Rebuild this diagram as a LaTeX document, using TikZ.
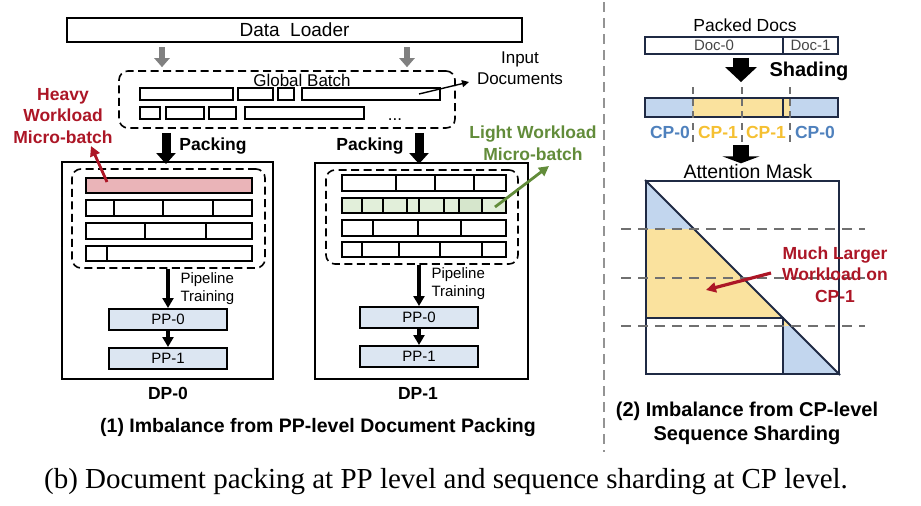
\documentclass[tikz,border=0pt]{standalone}
\usepackage{fontspec}
\setmainfont{Liberation Sans}
\newfontfamily\capserif{Liberation Serif}
\usetikzlibrary{arrows.meta}
\definecolor{arrowgray}{RGB}{128,128,128}
\definecolor{pinkf}{RGB}{234,180,184}
\definecolor{greenf}{RGB}{226,239,218}
\definecolor{greenf2}{RGB}{214,230,204}
\definecolor{ppfill}{RGB}{220,230,242}
\definecolor{heavyred}{RGB}{172,22,38}
\definecolor{lightgreen}{RGB}{98,140,58}
\definecolor{cpbluet}{RGB}{79,129,189}
\definecolor{cpyellowt}{RGB}{245,192,50}
\definecolor{cpbluef}{RGB}{194,214,238}
\definecolor{cpyellowf}{RGB}{250,226,158}
\definecolor{navy}{RGB}{31,42,68}
\definecolor{dashgray}{RGB}{112,112,112}
\definecolor{docgray}{RGB}{70,70,70}
\newcommand\fsz[2]{\fontsize{#1}{#2}\selectfont}
\begin{document}
\begin{tikzpicture}[x=1pt,y=-1pt,
  box/.style={draw, line width=2pt, inner sep=0pt},
  dbox/.style={draw, dash pattern=on 8pt off 4.5pt, line width=1.6pt, rounded corners=9pt, inner sep=0pt},
  cell/.style={draw, line width=1.6pt},
  ppbox/.style={box, fill=ppfill, minimum width=118pt, minimum height=21pt, font=\fsz{15}{18}},
  grayarrow/.style={draw=arrowgray, line width=6pt, -{Triangle[width=15pt,length=9pt]}, arrowgray},
  bigarrow/.style={line width=9pt, -{Triangle[width=19pt,length=11pt]}},
  pipearrow/.style={line width=3.5pt, -{Triangle[width=11pt,length=10pt]}},
  labarrow/.style={line width=2.8pt, -{Triangle[width=10pt,length=10pt]}},
  lab17/.style={font=\fsz{17}{21}},
  blab/.style={font=\bfseries\fsz{17.5}{21.5}},
  vdash/.style={draw=dashgray, line width=2pt, dash pattern=on 7pt off 5pt},
  hdash/.style={draw=dashgray, line width=2.2pt, dash pattern=on 10pt off 7pt},
]
\useasboundingbox (0,0) rectangle (921,506);

% ---------- Data loader and global batch ----------
\node[box, minimum width=455pt, minimum height=24pt, font=\fsz{19}{22}] (dl) at (294.5,30) {Data\ \ Loader};
\node[dbox, minimum width=336pt, minimum height=57pt] (gb) at (287,99.5) {};
\node[lab17] (gbt) at (302,80) {Global Batch};
\coordinate (ga1) at (162,0);
\coordinate (ga2) at (407,0);
\draw[grayarrow, shorten <=4pt, shorten >=3pt] (dl.south -| ga1) -- (gb.north -| ga1);
\draw[grayarrow, shorten <=4pt, shorten >=3pt] (dl.south -| ga2) -- (gb.north -| ga2);
% documents in global batch
\draw[cell] (140,88) rectangle (233,100);
\draw[cell] (238,88) rectangle (273,100);
\draw[cell] (278,88) rectangle (294,100);
\draw[cell] (302,88) rectangle (440,100);
\draw[cell] (140,107) rectangle (160,119);
\draw[cell] (166,107) rectangle (204,119);
\draw[cell] (209,107) rectangle (236,119);
\draw[cell] (245,107) rectangle (364,119);
\node[lab17, anchor=base] (dots) at (395,120) {...};
% input documents
\node[lab17, align=center] (indoc) at (520,68.5) {Input\\Documents};
\coordinate (indocs) at (419,94);
\coordinate (indoce) at (469,82);
\draw[line width=1.4pt, -{Triangle[width=7pt,length=7pt]}] (indocs) -- (indoce);

% ---------- DP-0 ----------
\node[box, minimum width=211pt, minimum height=217pt] (dp0) at (167.5,270.5) {};
\node[dbox, minimum width=193pt, minimum height=99pt] (in0) at (168.5,218.5) {};
\draw[cell, fill=pinkf] (86,178) rectangle (252,193);
\draw[cell] (86,200) rectangle (252,216);
\foreach \s in {114,163,213} \draw[cell] (\s,200) -- (\s,216);
\draw[cell] (86,223) rectangle (252,239);
\foreach \s in {145,206} \draw[cell] (\s,223) -- (\s,239);
\draw[cell] (86,246) rectangle (252,261);
\draw[cell] (107,246) -- (107,261);
\node[ppbox] (pp0a) at (168,319.5) {PP-0};
\node[ppbox] (pp1a) at (168,358.5) {PP-1};
\coordinate (p0x) at (166,0);
\coordinate (q0x) at (168,0);
\draw[bigarrow, shorten <=4pt, shorten >=-3pt] (gb.south -| p0x) -- (dp0.north -| p0x);
\node[blab] (pack0) at (213,146) {Packing};
\draw[pipearrow] (in0.south -| q0x) -- (pp0a.north);
\draw[pipearrow] (pp0a.south) -- (pp1a.north);
\node[font=\fsz{15}{18}, align=left, anchor=west] (pipe0) at (177,289) {Pipeline\\Training};
\node[blab] (dp0l) at (168,393) {DP-0};
% heavy label
\node[blab, text=heavyred, align=center] (heavy) at (63,116) {Heavy\\Workload\\Micro-batch};
\coordinate (heavys) at (107,182);
\coordinate (heavye) at (91,146);
\draw[labarrow, heavyred] (heavys) -- (heavye);

% ---------- DP-1 ----------
\node[box, minimum width=213pt, minimum height=216pt] (dp1) at (421.5,271) {};
\node[dbox, minimum width=192pt, minimum height=94pt] (in1) at (422,217) {};
\draw[cell] (342,175) rectangle (506,191);
\foreach \s in {396,435,474} \draw[cell] (\s,175) -- (\s,191);
\fill[greenf] (342,198) rectangle (506,213);
\fill[greenf2] (459,198) rectangle (482,213);
\draw[cell] (342,198) rectangle (506,213);
\foreach \s in {362,383,407,419,444,459,482} \draw[cell] (\s,198) -- (\s,213);
\draw[cell] (342,220) rectangle (506,236);
\foreach \s in {373,418,461} \draw[cell] (\s,220) -- (\s,236);
\draw[cell] (342,242) rectangle (506,257);
\foreach \s in {362,399,440,482} \draw[cell] (\s,242) -- (\s,257);
\node[ppbox] (pp0b) at (419,317.5) {PP-0};
\node[ppbox] (pp1b) at (419,356.5) {PP-1};
\coordinate (p1x) at (419,0);
\draw[bigarrow, shorten <=4pt, shorten >=-2pt] (gb.south -| p1x) -- (dp1.north -| p1x);
\node[blab] (pack1) at (370,146) {Packing};
\draw[pipearrow] (in1.south -| p1x) -- (pp0b.north);
\draw[pipearrow] (pp0b.south) -- (pp1b.north);
\node[font=\fsz{15}{18}, align=left, anchor=west] (pipe1) at (428,284) {Pipeline\\Training};
\node[blab] (dp1l) at (418,393) {DP-1};
% light label
\node[blab, text=lightgreen, align=center] (light) at (533,143) {Light Workload\\Micro-batch};
\coordinate (lights) at (495,207);
\coordinate (lighte) at (549,166);
\draw[labarrow, lightgreen] (lights) -- (lighte);

\node[font=\bfseries\fsz{19.5}{23}] (cap1) at (318,427) {(1) Imbalance from PP-level Document Packing};

% separator
\draw[draw=arrowgray!85, line width=2.5pt, dash pattern=on 10pt off 6pt] (604,2) -- (604,452);

% ---------- Right part ----------
\node[lab17, font=\fsz{17.5}{21}] (packed) at (745,25) {Packed Docs};
\node[draw=navy, line width=1.7pt, minimum width=138pt, minimum height=17pt, inner sep=0pt, font=\fsz{15}{18}, text=docgray] (doc0) at (714,45.5) {Doc-0};
\node[draw=navy, line width=1.7pt, minimum width=55pt, minimum height=17pt, inner sep=0pt, font=\fsz{15}{18}, text=docgray] (doc1) at (810.5,45.5) {Doc-1};
\coordinate (shx) at (741,0);
\fill[cpbluef] (645,98) rectangle (693,117);
\fill[cpyellowf] (693,98) rectangle (790,117);
\fill[cpbluef] (790,98) rectangle (838,117);
\node[draw=navy, line width=1.9pt, minimum width=193pt, minimum height=19pt, inner sep=0pt] (cpbar) at (741.5,107.5) {};
\draw[navy, line width=1.9pt] (783,98) -- (783,117);
\draw[line width=16pt, -{Triangle[width=31pt,length=15pt]}, shorten <=3pt, shorten >=15pt] (doc0.south -| shx) -- (cpbar.north -| shx);
\node[font=\bfseries\fsz{20}{24}] (shading) at (809,71) {Shading};
\foreach \s in {693,742,790} \draw[vdash] (\s,87) -- (\s,145);
\node[font=\bfseries\fsz{17.5}{21}, text=cpbluet] (cpa) at (670,132) {CP-0};
\node[font=\bfseries\fsz{17.5}{21}, text=cpyellowt] (cpb) at (718,132) {CP-1};
\node[font=\bfseries\fsz{17.5}{21}, text=cpyellowt] (cpc) at (766,132) {CP-1};
\node[font=\bfseries\fsz{17.5}{21}, text=cpbluet] (cpd) at (815,132) {CP-0};
\node[font=\fsz{19.5}{23}] (attn) at (748,172) {Attention Mask};
\draw[line width=16pt, -{Triangle[width=37pt,length=7pt]}, shorten <=3pt, shorten >=-2pt] (cpbar.south -| shx) ++(0,24) -- (attn.north -| shx);

% attention mask
\fill[cpbluef] (646,181) -- (694,229) -- (646,229) -- cycle;
\fill[cpyellowf] (646,229) -- (694,229) -- (783,318) -- (646,318) -- cycle;
\fill[cpyellowf] (783,318) -- (791,326) -- (783,326) -- cycle;
\fill[cpbluef] (783,326) -- (791,326) -- (839,374) -- (783,374) -- cycle;
\node[draw=navy, line width=2pt, minimum width=193pt, minimum height=193pt, inner sep=0pt] (mask) at (742.5,277.5) {};
\draw[navy, line width=2pt] (mask.north west) -- (mask.south east);
\draw[navy, line width=2pt] (646,318) -- (783,318) -- (783,374);
\foreach \y in {229,278,326} \draw[hdash] (621,\y) -- (865,\y);
\node[blab, text=heavyred, align=center] (much) at (835,274.5) {Much Larger\\Workload on\\CP-1};
\coordinate (muchs) at (771,273);
\coordinate (muche) at (706,290);
\draw[labarrow, line width=3.2pt, heavyred] (muchs) -- (muche);

\node[font=\bfseries\fsz{20}{24}, align=center] (cap2) at (747,423) {(2) Imbalance from CP-level\\Sequence Sharding};

% bottom caption
\node[font=\capserif\fsz{29}{34}, anchor=base] (cap) at (446,488) {(b) Document packing at PP level and sequence sharding at CP level.};
\end{tikzpicture}
\end{document}
